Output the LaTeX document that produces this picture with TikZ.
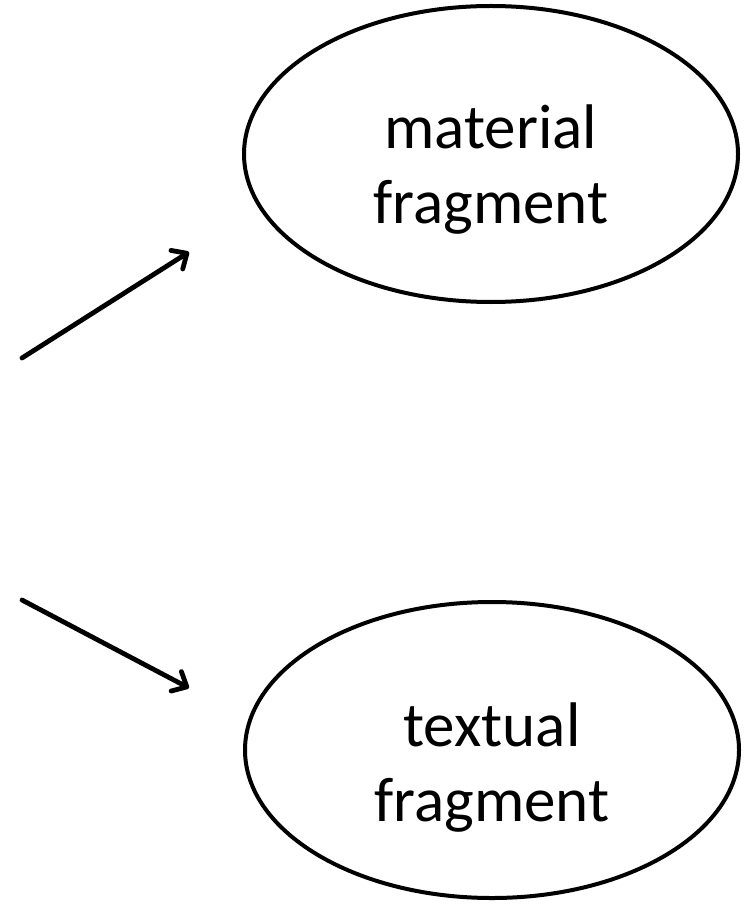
\documentclass[tikz,border=0pt]{standalone}
\usepackage{fontspec}
\setmainfont{Carlito}
\usetikzlibrary{shapes.geometric,arrows.meta}
\tikzset{
  fragbox/.style={draw=black, line width=4pt, ellipse, inner sep=0pt,
    minimum width=494pt, minimum height=296pt},
  fraglabel/.style={align=center, inner sep=0pt,
    font=\fontsize{63}{75}\selectfont},
  pointer/.style={line width=4.8pt, line cap=round,
    -{Straight Barb[length=12pt,width=22pt,line cap=round,line join=round]}}
}
\begin{document}
\begin{tikzpicture}[x=1pt,y=-1pt]
  \useasboundingbox (0,0) rectangle (748,904);
  % the two fragment kinds
  \node[fragbox] (material) at (491,154) {};
  \node[fraglabel] (materialtext) at (491,170) {material\\fragment};
  \node[fragbox] (textual) at (492,750) {};
  \node[fraglabel] (textualtext) at (492,768) {textual\\fragment};
  % loose ends of the two arrows
  \coordinate (upfrom) at (22,358);
  \coordinate (upto) at (189,252);
  \coordinate (downfrom) at (22,600);
  \coordinate (downto) at (189,688);
  \draw[pointer] (upfrom) -- (upto);
  \draw[pointer] (downfrom) -- (downto);
\end{tikzpicture}
\end{document}
